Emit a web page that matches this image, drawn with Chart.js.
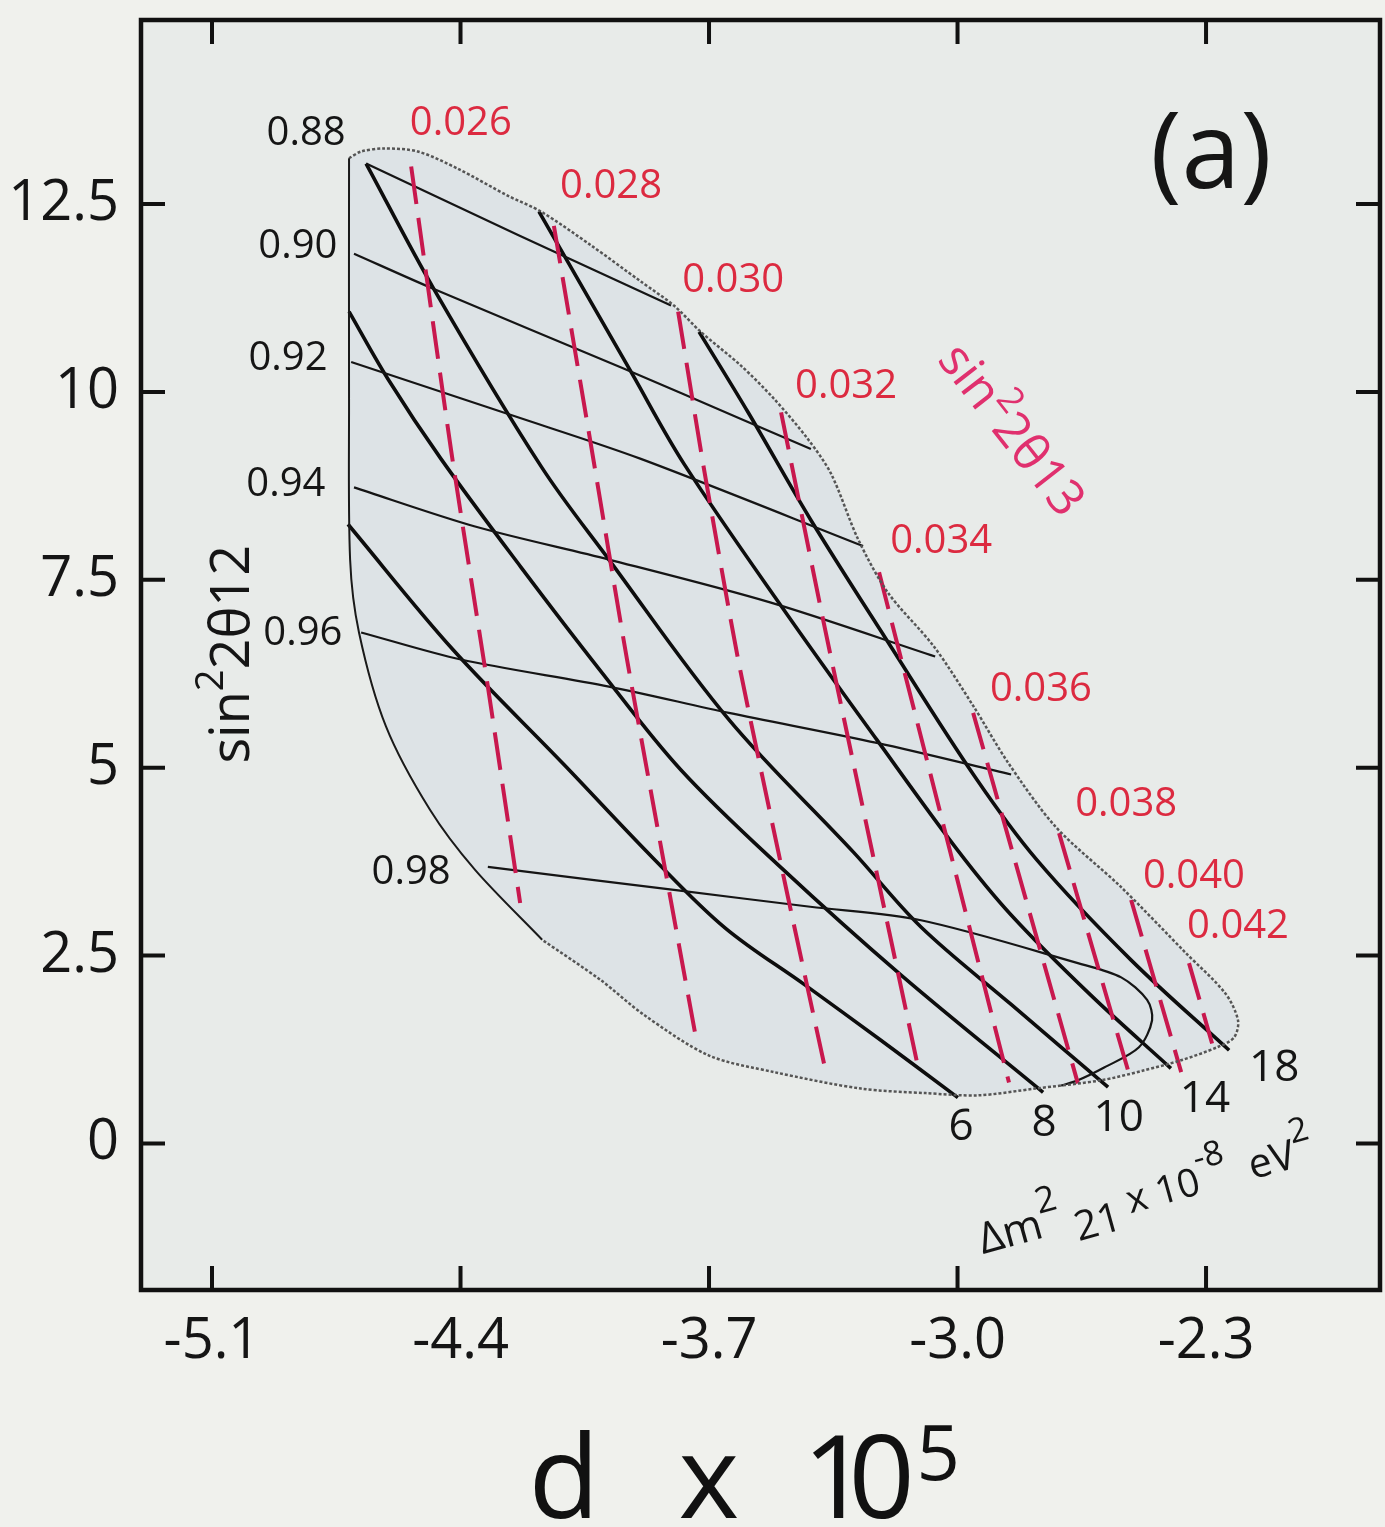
<!DOCTYPE html>
<html>
<head>
<meta charset="utf-8">
<script src="https://cdn.jsdelivr.net/npm/chart.js@4.4.1/dist/chart.umd.min.js"></script>
<style>
  html, body { margin: 0; padding: 0; background: #f0f1ed; }
  #wrap { width: 1385px; height: 1527px; }
</style>
</head>
<body>
<div id="wrap"><canvas id="myChart" width="1385" height="1527"></canvas></div>
<script>
// ---- axis ticks ----
const xTickVals = [-5.1, -4.4, -3.7, -3.0, -2.3];
const yTickVals = [0, 2.5, 5, 7.5, 10, 12.5];

// ---- allowed region (left edge solid, rest dotted) ----
const regionLeft = [[-4.170,2.71],[-4.359,3.64],[-4.486,4.44],[-4.610,5.55],[-4.686,6.80],[-4.711,7.77],[-4.714,9.91],[-4.714,13.11]];
const regionEdge = [[-4.714,13.11],[-4.680,13.20],[-4.615,13.24],[-4.520,13.20],[-4.407,12.97],[-4.266,12.61],[-4.173,12.40],
  [-4.032,11.95],[-3.892,11.47],[-3.799,11.15],[-3.723,10.80],[-3.610,10.35],[-3.517,9.91],[-3.421,9.37],[-3.356,8.91],
  [-3.280,8.04],[-3.196,7.33],[-3.066,6.61],[-2.954,5.81],[-2.858,5.07],[-2.723,4.21],[-2.539,3.41],[-2.356,2.53],
  [-2.246,2.00],[-2.210,1.64],[-2.221,1.41],[-2.269,1.28],[-2.368,1.11],[-2.477,0.97],[-2.596,0.84],[-2.782,0.73],
  [-2.942,0.64],[-3.089,0.67],[-3.272,0.73],[-3.517,0.95],[-3.700,1.17],[-3.883,1.71],[-4.004,2.17],[-4.170,2.71]];

// ---- sin^2 2theta12 contours (thin black) ----
const theta12Labels = ['0.88', '0.90', '0.92', '0.94', '0.96', '0.98'];
const theta12Curves = [
  [[-4.666,13.04],[-4.238,12.09],[-3.807,11.15]],
  [[-4.700,11.84],[-4.475,11.37],[-3.939,10.31],[-3.610,9.64],[-3.413,9.24]],
  [[-4.708,10.40],[-4.249,9.68],[-3.892,9.11],[-3.266,7.95]],
  [[-4.700,8.73],[-4.359,8.21],[-3.982,7.77],[-3.528,7.20],[-3.063,6.48]],
  [[-4.680,6.80],[-4.399,6.44],[-3.982,6.08],[-3.644,5.73],[-3.227,5.33],[-2.849,4.91]],
  [[-4.323,3.68],[-3.793,3.37],[-3.415,3.15],[-3.103,2.97],[-2.661,2.40],[-2.539,2.21],[-2.466,1.91],
   [-2.452,1.64],[-2.489,1.28],[-2.587,1.01],[-2.661,0.84],[-2.708,0.77]]
];
const theta12LabelPos = [[-4.835,13.44],[-4.858,11.93],[-4.886,10.44],[-4.892,8.77],[-4.844,6.79],[-4.539,3.60]];

// ---- delta m^2_21 contours (thick black) ----
const dm21Labels = ['6', '8', '10', '14', '18'];
const dm21Curves = [
  [[-4.717,8.24],[-4.421,6.57],[-4.108,5.04],[-3.858,3.80],[-3.655,2.87],[-3.430,2.11],[-3.215,1.37],[-2.999,0.61]],
  [[-4.714,11.07],[-4.604,10.17],[-4.455,9.11],[-4.230,7.67],[-4.004,6.28],[-3.779,4.97],[-3.497,3.67],[-3.159,2.24],[-2.759,0.68]],
  [[-4.666,13.04],[-4.475,11.37],[-4.173,9.01],[-3.982,7.77],[-3.644,5.64],[-3.292,3.87],[-3.103,2.88],[-2.849,1.85],[-2.576,0.75]],
  [[-4.179,12.40],[-3.920,10.27],[-3.770,9.04],[-3.480,7.04],[-3.227,5.37],[-3.001,3.91],[-2.849,3.04],[-2.624,1.97],[-2.399,1.00]],
  [[-3.728,10.80],[-3.590,9.73],[-3.415,8.31],[-3.201,6.71],[-2.951,4.88],[-2.776,3.77],[-2.511,2.44],[-2.235,1.24]]
];
const dm21LabelPos = [[-2.990,0.21],[-2.756,0.27],[-2.546,0.33],[-2.303,0.59],[-2.108,1.00]];

// ---- sin^2 2theta13 contours (red dashed) ----
const theta13Labels = ['0.026', '0.028', '0.030', '0.032', '0.034', '0.036', '0.038', '0.040', '0.042'];
const theta13Lines = [
  [[-4.539,13.00],[-4.427,9.24],[-4.323,6.08],[-4.232,3.20]],
  [[-4.137,12.21],[-4.032,9.28],[-3.931,6.44],[-3.737,1.41]],
  [[-3.787,11.07],[-3.714,8.97],[-3.618,6.44],[-3.480,3.33],[-3.370,0.93]],
  [[-3.497,9.73],[-3.373,6.84],[-3.111,1.01]],
  [[-3.221,7.60],[-2.855,0.81]],
  [[-2.956,5.73],[-2.661,0.80]],
  [[-2.714,4.13],[-2.514,0.88]],
  [[-2.511,3.24],[-2.370,0.95]],
  [[-2.348,2.40],[-2.283,1.33]]
];
const theta13LabelPos = [[-4.399,13.57],[-3.976,12.73],[-3.632,11.48],[-3.314,10.07],[-3.046,8.01],[-2.765,6.04],[-2.525,4.51],[-2.334,3.55],[-2.210,2.88]];

const FONT = '"Open Sans", "Noto Sans", sans-serif';
const RED_TEXT = '#dc2a40';
const RED_LINE = '#c8184e';

function pts(arr) {
  return arr.map(p => ({ x: p[0], y: p[1] }));
}

// build datasets
const datasets = [];
datasets.push({ data: pts(regionLeft), borderColor: '#1a1a1a', borderWidth: 2, tension: 0.3 });
datasets.push({ data: pts(regionEdge), borderColor: '#555', borderWidth: 2.5, borderDash: [3, 2], tension: 0.3 });
theta13Lines.forEach(l => {
  datasets.push({ data: pts(l), borderColor: RED_LINE, borderWidth: 4, borderDash: [38, 14], tension: 0.2 });
});
theta12Curves.forEach(l => {
  datasets.push({ data: pts(l), borderColor: '#151515', borderWidth: 2.2, tension: 0.3 });
});
dm21Curves.forEach(l => {
  datasets.push({ data: pts(l), borderColor: '#0d0d0d', borderWidth: 3.6, tension: 0.35 });
});
datasets.forEach(d => {
  d.showLine = true;
  d.pointRadius = 0;
  d.fill = false;
});

// draw a run of text pieces (for super/subscripts), optionally rotated
function drawRuns(ctx, runs, x, y, angle, align, color) {
  ctx.save();
  ctx.translate(x, y);
  ctx.rotate(angle);
  ctx.textBaseline = 'alphabetic';
  ctx.textAlign = 'left';
  let total = 0;
  runs.forEach(r => {
    ctx.font = r.s + 'px ' + FONT;
    total += ctx.measureText(r.t).width;
  });
  let cx = align === 'center' ? -total / 2 : (align === 'right' ? -total : 0);
  const base = runs[0].s * 0.36;
  runs.forEach(r => {
    ctx.font = r.s + 'px ' + FONT;
    ctx.fillStyle = r.c || color;
    ctx.fillText(r.t, cx, base + (r.dy || 0));
    cx += ctx.measureText(r.t).width;
  });
  ctx.restore();
}

const bgPlugin = {
  id: 'bg',
  beforeDraw(chart) {
    const { ctx, chartArea: a } = chart;
    ctx.save();
    ctx.fillStyle = '#e8ebe9';
    ctx.fillRect(a.left, a.top, a.right - a.left, a.bottom - a.top);
    ctx.restore();
  },
  beforeDatasetsDraw(chart) {
    // shade the allowed region
    const ctx = chart.ctx;
    const p = [...chart.getDatasetMeta(0).data, ...chart.getDatasetMeta(1).data];
    ctx.save();
    ctx.beginPath();
    p.forEach((pt, i) => i ? ctx.lineTo(pt.x, pt.y) : ctx.moveTo(pt.x, pt.y));
    ctx.closePath();
    ctx.fillStyle = '#dde3e6';
    ctx.fill();
    ctx.restore();
  }
};

const annotPlugin = {
  id: 'annot',
  afterDatasetsDraw(chart) {
    const { ctx } = chart;
    const sx = chart.scales.x, sy = chart.scales.y;
    const X = v => sx.getPixelForValue(v);
    const Y = v => sy.getPixelForValue(v);

    ctx.save();
    ctx.textAlign = 'center';
    ctx.textBaseline = 'middle';

    // theta12 labels
    ctx.font = '40px ' + FONT;
    ctx.fillStyle = '#151515';
    theta12Labels.forEach((t, i) => ctx.fillText(t, X(theta12LabelPos[i][0]), Y(theta12LabelPos[i][1])));

    // theta13 labels
    ctx.fillStyle = RED_TEXT;
    theta13Labels.forEach((t, i) => ctx.fillText(t, X(theta13LabelPos[i][0]), Y(theta13LabelPos[i][1])));

    // dm21 labels
    ctx.font = '44px ' + FONT;
    ctx.fillStyle = '#151515';
    dm21Labels.forEach((t, i) => ctx.fillText(t, X(dm21LabelPos[i][0]), Y(dm21LabelPos[i][1])));

    // panel tag
    ctx.font = '106px ' + FONT;
    ctx.fillText('(a)', X(-2.286), Y(13.11));
    ctx.restore();

    // sin^2 2theta13 family label
    drawRuns(ctx, [{ t: 'sin', s: 50 }, { t: '2', s: 36, dy: -22 }, { t: '2θ13', s: 50 }],
      X(-2.844), Y(9.51), 52 * Math.PI / 180, 'center', '#e0306e');

    // y axis title inside plot
    drawRuns(ctx, [{ t: 'sin', s: 54 }, { t: '2', s: 38, dy: -26 }, { t: '2θ12', s: 54 }],
      X(-5.05), Y(6.51), -Math.PI / 2, 'center', '#151515');

    // dm21 unit label
    drawRuns(ctx, [{ t: 'Δm', s: 43 }, { t: '2', s: 36, dy: -24 }, { t: ' 21', s: 41, dy: 13 },
      { t: ' x 10', s: 39 }, { t: '-8', s: 34, dy: -24 }, { t: '  eV', s: 41 }, { t: '2', s: 34, dy: -24 }],
      X(-2.47), Y(-0.66), -15.5 * Math.PI / 180, 'center', '#151515');
  },
  afterDraw(chart) {
    const { ctx, chartArea: a } = chart;
    const sx = chart.scales.x, sy = chart.scales.y;
    ctx.save();
    ctx.strokeStyle = '#111';
    ctx.lineWidth = 4.5;
    ctx.strokeRect(a.left, a.top, a.right - a.left, a.bottom - a.top);
    ctx.lineWidth = 4;
    ctx.beginPath();
    xTickVals.forEach(v => {
      const px = sx.getPixelForValue(v);
      ctx.moveTo(px, a.bottom); ctx.lineTo(px, a.bottom - 24);
      ctx.moveTo(px, a.top); ctx.lineTo(px, a.top + 24);
    });
    yTickVals.forEach(v => {
      const py = sy.getPixelForValue(v);
      ctx.moveTo(a.left, py); ctx.lineTo(a.left + 24, py);
      ctx.moveTo(a.right, py); ctx.lineTo(a.right - 24, py);
    });
    ctx.stroke();

    // x axis title: d x 10^5
    const mid = (a.left + a.right) / 2;
    ctx.fillStyle = '#111';
    ctx.textBaseline = 'alphabetic';
    ctx.textAlign = 'left';
    ctx.font = '116px ' + FONT;
    ctx.fillText('d', mid - 232, 1518);
    ctx.fillText('x', mid - 82, 1518);
    ctx.fillText('1', mid + 42, 1518);
    ctx.fillText('0', mid + 88, 1518);
    ctx.font = '76px ' + FONT;
    ctx.fillText('5', mid + 156, 1480);
    ctx.restore();
  }
};

new Chart(document.getElementById('myChart'), {
  type: 'scatter',
  data: { datasets: datasets },
  options: {
    responsive: false,
    animation: false,
    devicePixelRatio: 1,
    layout: { padding: { left: 0, right: 5, top: 20, bottom: 0 } },
    plugins: { legend: { display: false }, tooltip: { enabled: false } },
    scales: {
      x: {
        type: 'linear',
        min: -5.3,
        max: -1.81,
        afterBuildTicks: s => { s.ticks = xTickVals.map(v => ({ value: v })); },
        afterFit: s => { s.height = 237; s.paddingLeft = 0; s.paddingRight = 0; },
        grid: { display: false, drawTicks: false },
        border: { display: false },
        ticks: {
          padding: 18,
          color: '#151515',
          font: { family: FONT, size: 56 },
          callback: v => v.toFixed(1)
        }
      },
      y: {
        type: 'linear',
        min: -1.95,
        max: 14.95,
        afterBuildTicks: s => { s.ticks = yTickVals.map(v => ({ value: v })); },
        afterFit: s => { s.width = 141; s.paddingTop = 0; s.paddingBottom = 0; },
        grid: { display: false, drawTicks: false },
        border: { display: false },
        ticks: {
          padding: 22,
          color: '#151515',
          font: { family: FONT, size: 56 },
          callback: v => String(v)
        }
      }
    }
  },
  plugins: [bgPlugin, annotPlugin]
});
</script>
</body>
</html>
